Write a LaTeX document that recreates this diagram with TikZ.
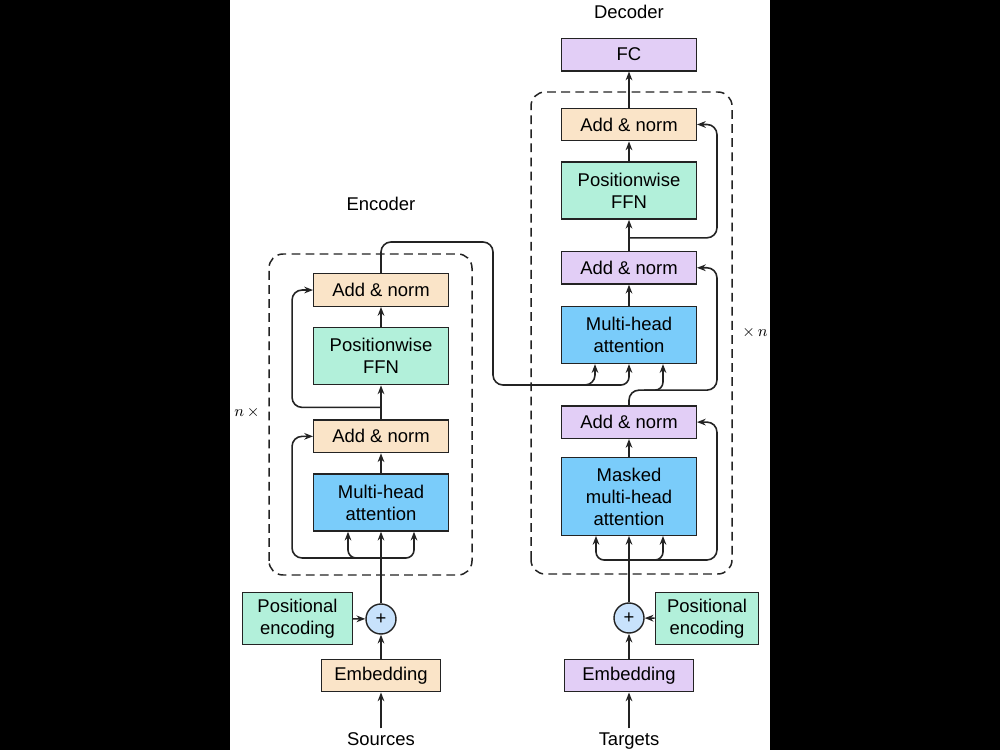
\documentclass[tikz,border=0pt]{standalone}
\usepackage{fontspec}
\setmainfont{Liberation Sans}
\usetikzlibrary{arrows.meta, positioning, calc}

\definecolor{normtan}{RGB}{250,228,200}
\definecolor{ffngreen}{RGB}{178,240,218}
\definecolor{attblue}{RGB}{122,204,250}
\definecolor{normlilac}{RGB}{226,206,246}
\definecolor{plusblue}{RGB}{200,226,252}
\definecolor{linegray}{RGB}{35,35,35}

\begin{document}
\begin{tikzpicture}[
        block/.style={
            draw=linegray,
            line width=0.8pt,
            minimum width=2.69cm,
            minimum height=0.65cm,
            font=\fontsize{10.5}{12.5}\selectfont,
            align=center,
            inner sep=1pt
        },
        tall/.style={minimum height=1.14cm},
        flow/.style={draw=linegray, line width=0.9pt, -{Stealth[length=5pt, width=3.8pt]}},
        wire/.style={draw=linegray, line width=0.9pt},
        headtext/.style={font=\fontsize{10.5}{12.5}\selectfont, inner sep=2pt},
        stack/.style={draw=linegray, line width=0.85pt, dash pattern=on 5pt off 3pt, rounded corners=8pt}
    ]
        % Rahmen
        \useasboundingbox (0,0) rectangle (20,15);
        \fill[black] (0,0) rectangle (4.6,15);
        \fill[black] (15.4,0) rectangle (20,15);
        \fill[white] (4.6,0) rectangle (15.4,15);

        % Encoder
        \node[block, fill=attblue, tall] (eatt) at (7.62,4.95) {Multi-head\\attention};
        \node[block, fill=normtan, above=0.4cm of eatt] (ean1) {Add \& norm};
        \node[block, fill=ffngreen, tall, above=0.68cm of ean1] (effn) {Positionwise\\FFN};
        \node[block, fill=normtan, above=0.4cm of effn] (ean2) {Add \& norm};
        \node[headtext] (enctitle) at (7.62,10.92) {Encoder};
        \node[font=\small] (nenc) at (4.94,6.74) {$n\,\times$};

        \node[circle, draw=linegray, line width=0.8pt, fill=plusblue, minimum size=0.6cm, inner sep=0pt,
            font=\fontsize{10.5}{12.5}\selectfont] (eplus) at (7.62,2.62) {+};
        \node[block, fill=normtan, minimum width=2.37cm] (eemb) at (7.62,1.49) {Embedding};
        \node[block, fill=ffngreen, minimum width=2.19cm, minimum height=1.05cm] (epos) at (5.95,2.63) {Positional\\encoding};
        \node[headtext, anchor=base] (esrc) at (7.62,0.1) {Sources};

        % Decoder
        \node[block, fill=attblue, minimum height=1.55cm] (dmatt) at (12.58,5.07) {Masked\\multi-head\\attention};
        \node[block, fill=normlilac, above=0.36cm of dmatt] (dan1) {Add \& norm};
        \node[block, fill=attblue, tall, above=0.82cm of dan1] (datt) {Multi-head\\attention};
        \node[block, fill=normlilac, above=0.42cm of datt] (dan2) {Add \& norm};
        \node[block, fill=ffngreen, tall, above=0.62cm of dan2] (dffn) {Positionwise\\FFN};
        \node[block, fill=normtan, above=0.4cm of dffn] (dan3) {Add \& norm};
        \node[block, fill=normlilac, above=0.72cm of dan3] (fc) {FC};
        \node[headtext] (dectitle) at (12.58,14.76) {Decoder};
        \node[font=\small] (ndec) at (15.1,8.34) {$\times\,n$};

        \node[circle, draw=linegray, line width=0.8pt, fill=plusblue, minimum size=0.6cm, inner sep=0pt,
            font=\fontsize{10.5}{12.5}\selectfont] (dplus) at (12.58,2.64) {+};
        \node[block, fill=normlilac, minimum width=2.59cm] (demb) at (12.58,1.49) {Embedding};
        \node[block, fill=ffngreen, minimum width=2.07cm, minimum height=1.05cm] (dpos) at (14.14,2.63) {Positional\\encoding};
        \node[headtext, anchor=base] (dtgt) at (12.58,0.1) {Targets};

        % Stapel
        \draw[stack] (5.38,3.5) rectangle (9.44,9.92);
        \draw[stack] (10.62,3.52) rectangle (14.64,13.16);

        % Eingaenge
        \draw[flow] (esrc) -- (eemb);
        \draw[flow] (eemb) -- (eplus);
        \draw[flow] (epos) -- (eplus);
        \draw[flow] (eplus) -- (eatt);
        \draw[flow] (dtgt) -- (demb);
        \draw[flow] (demb) -- (dplus);
        \draw[flow] (dpos) -- (dplus);
        \draw[flow] (dplus) -- (dmatt);

        % Encoder-Verbindungen
        \coordinate (ejoin) at (7.62,3.84);
        \draw[flow, rounded corners=0.2cm] (ejoin) -| ($(ean1.west)+(-0.42,0)$) -- (ean1.west);
        \draw[flow, rounded corners=0.16cm] (ejoin) -| ($(eatt.south)+(-0.66,0)$);
        \draw[flow, rounded corners=0.16cm] (ejoin) -| ($(eatt.south)+(0.66,0)$);
        \draw[flow] (eatt) -- (ean1);
        \draw[flow] (ean1) -- (effn);
        \coordinate (etap) at ($(ean1.north)+(0,0.24)$);
        \draw[flow, rounded corners=0.2cm] (etap) -| ($(ean2.west)+(-0.42,0)$) -- (ean2.west);
        \draw[flow] (effn) -- (ean2);

        % Encoder -> Decoder
        \coordinate (ebend) at (9.86,10.16);
        \coordinate (ekv) at (9.86,7.3);
        \draw[flow, rounded corners=0.2cm] (ean2.north) |- (ebend) -- (ekv) -| ($(datt.south)+(-0.68,0)$);
        \draw[flow, rounded corners=0.16cm] ($(datt.south |- ekv)+(-1.0,0)$) -| (datt.south);

        % Decoder-Verbindungen
        \coordinate (djoin) at (12.58,3.8);
        \draw[flow, rounded corners=0.2cm] (djoin) -| ($(dan1.east)+(0.4,0)$) -- (dan1.east);
        \draw[flow, rounded corners=0.16cm] (djoin) -| ($(dmatt.south)+(-0.66,0)$);
        \draw[flow, rounded corners=0.16cm] (djoin) -| ($(dmatt.south)+(0.68,0)$);
        \draw[flow] (dmatt) -- (dan1);
        \coordinate (dtap) at ($(dan1.north)+(0,0.3)$);
        \draw[flow, rounded corners=0.2cm] (dan1.north) -- (dtap) -| ($(dan2.east)+(0.4,0)$) -- (dan2.east);
        \draw[flow, rounded corners=0.16cm] ($(dtap)+(0.3,0)$) -| ($(datt.south)+(0.68,0)$);
        \draw[flow] (datt) -- (dan2);
        \draw[flow] (dan2) -- (dffn);
        \coordinate (dtap2) at ($(dan2.north)+(0,0.26)$);
        \draw[flow, rounded corners=0.2cm] (dtap2) -| ($(dan3.east)+(0.4,0)$) -- (dan3.east);
        \draw[flow] (dffn) -- (dan3);
        \draw[flow] (dan3) -- (fc);
    \end{tikzpicture}
\end{document}
